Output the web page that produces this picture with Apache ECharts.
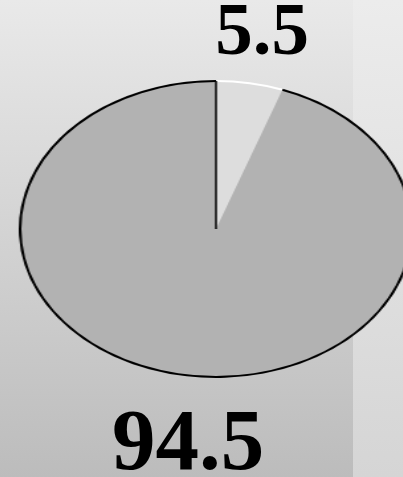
<!DOCTYPE html>
<html>
<head>
<meta charset="utf-8">
<script src="https://cdn.jsdelivr.net/npm/echarts@6/dist/echarts.min.js"></script>
<style>
  html, body { margin: 0; padding: 0; }
  .wrap { position: relative; width: 403px; height: 477px; overflow: hidden; }
  .layer { position: absolute; left: 0; top: 0; width: 403px; height: 477px; }
  /* the pie is drawn round, then stretched into the flat ellipse of the picture */
  #pie { transform: scaleX(1.324); transform-origin: 216px 229px; }
</style>
</head>
<body>
<div class="wrap">
  <div id="bg" class="layer"></div>
  <div id="pie" class="layer"></div>
</div>
<script>
// data
const sliceNames = ["Part A", "Part B"];
const sliceValues = [5.5, 94.5];
const sliceColors = ["#dddddd", "#b2b2b2"];
const rimColors = ["#ffffff", "#000000"];

const pieData = sliceNames.map((name, i) => ({
  name: name,
  value: sliceValues[i],
  itemStyle: { color: sliceColors[i] },
}));
const rimData = sliceNames.map((name, i) => ({
  name: name,
  value: sliceValues[i],
  itemStyle: { color: rimColors[i] },
}));

// background + value labels
const bgChart = echarts.init(document.getElementById("bg"), null, { renderer: "canvas" });
bgChart.setOption({
  animation: false,
  graphic: [
    {
      type: "rect",
      shape: { x: 0, y: 0, width: 353, height: 477 },
      style: {
        fill: new echarts.graphic.LinearGradient(0, 0, 0, 1, [
          { offset: 0, color: "#e9e9e9" },
          { offset: 1, color: "#bcbcbc" },
        ]),
      },
    },
    {
      type: "rect",
      shape: { x: 353, y: 0, width: 50, height: 477 },
      style: {
        fill: new echarts.graphic.LinearGradient(0, 0, 0, 1, [
          { offset: 0, color: "#ececec" },
          { offset: 1, color: "#d5d5d5" },
        ]),
      },
    },
    {
      type: "text",
      x: 262,
      y: 35,
      style: {
        text: String(sliceValues[0]),
        font: "bold 75px 'Liberation Serif', serif",
        fill: "#000",
        align: "center",
        verticalAlign: "middle",
      },
    },
    {
      type: "text",
      x: 188,
      y: 447,
      style: {
        text: String(sliceValues[1]),
        font: "bold 87px 'Liberation Serif', serif",
        fill: "#000",
        align: "center",
        verticalAlign: "middle",
      },
    },
  ],
});

// pie
const pieChart = echarts.init(document.getElementById("pie"), null, { renderer: "canvas" });
pieChart.setOption({
  animation: false,
  backgroundColor: "transparent",
  series: [
    {
      type: "pie",
      center: [216, 229],
      radius: 148,
      startAngle: 90,
      clockwise: true,
      silent: true,
      label: { show: false },
      labelLine: { show: false },
      itemStyle: { borderWidth: 0 },
      data: pieData,
    },
    {
      // outline round the edge: white over the small slice, black elsewhere
      type: "pie",
      center: [216, 229],
      radius: [147, 149],
      startAngle: 90,
      clockwise: true,
      silent: true,
      label: { show: false },
      labelLine: { show: false },
      itemStyle: { borderWidth: 0 },
      data: rimData,
    },
  ],
});

// black radius where the slices start
const layout = pieChart.getModel().getSeriesByIndex(0).getData().getItemLayout(0);
pieChart.setOption({
  graphic: [
    {
      type: "line",
      shape: { x1: layout.cx, y1: layout.cy, x2: layout.cx, y2: layout.cy - layout.r },
      style: { stroke: "#000", lineWidth: 1.5 },
      z: 10,
    },
  ],
});
</script>
</body>
</html>
